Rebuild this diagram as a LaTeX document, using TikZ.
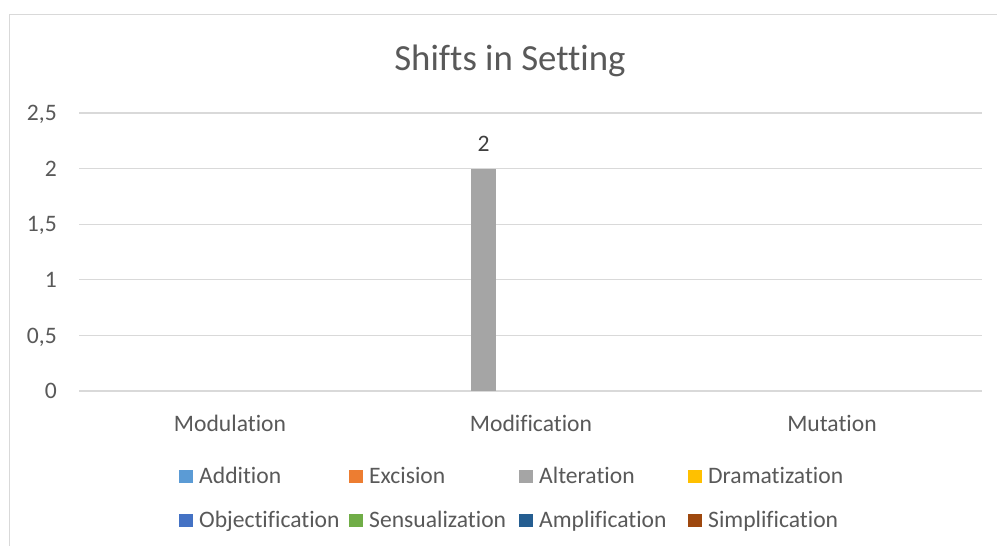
\documentclass[tikz,border=0pt]{standalone}
\usepackage{fontspec}
\setmainfont{Carlito}[Ligatures=NoCommon]
\definecolor{txtgray}{HTML}{595959}
\definecolor{lblgray}{HTML}{404040}
\definecolor{gridgray}{HTML}{D9D9D9}
\definecolor{cAddition}{HTML}{5B9BD5}
\definecolor{cExcision}{HTML}{ED7D31}
\definecolor{cAlteration}{HTML}{A5A5A5}
\definecolor{cDramatization}{HTML}{FFC000}
\definecolor{cObjectification}{HTML}{4472C4}
\definecolor{cSensualization}{HTML}{70AD47}
\definecolor{cAmplification}{HTML}{255E91}
\definecolor{cSimplification}{HTML}{9E480E}
\tikzset{
  chartframe/.style={draw=gridgray, line width=1.2pt},
  gridline/.style={draw=gridgray, line width=1.3pt},
  basetext/.style={inner sep=0pt, text=txtgray, font=\fontsize{23.6}{28}\selectfont},
  ticklabel/.style={basetext, anchor=base east},
  catlabel/.style={basetext, anchor=base},
  legtext/.style={basetext, anchor=base west},
  datalabel/.style={basetext, anchor=base, text=lblgray},
  titletext/.style={inner sep=0pt, anchor=base, text=txtgray, font=\fontsize{36.8}{44}\selectfont},
  legkey/.style={fill=#1, draw=none}
}
\begin{document}
\begin{tikzpicture}[x=1pt, y=-1pt]
\useasboundingbox (0,0) rectangle (997,546);
\fill[white] (0,0) rectangle (997,546);
% chart frame, running off the right and bottom edges
\begin{scope}
  \clip (0,0) rectangle (997,546);
  \draw[chartframe] (9.5,14.5) rectangle (1020,570);
\end{scope}

% title
\node[titletext] (title) at (510,70) {Shifts in Setting};

% horizontal gridlines and value axis labels
\foreach \v/\lab [count=\i from 0] in {0/0, 1/{0,5}, 2/1, 3/{1,5}, 4/2, 5/{2,5}} {
  \draw[gridline] (79,{391-\v*55.6}) -- (982,{391-\v*55.6});
  \node[ticklabel] (tick\i) at (57,{391-\v*55.6+7.6}) {\lab};
}

% the single non-zero bar (Alteration, Modification)
\fill[cAlteration] (471,169) rectangle (496,391);
\node[datalabel] (val) at (483.5,151) {2};

% category labels
\node[catlabel] (catA) at (230,431) {Modulation};
\node[catlabel] (catB) at (531,431) {Modification};
\node[catlabel] (catC) at (832,431) {Mutation};

% legend
\foreach \kx/\name/\row in {179/Addition/0, 349/Excision/0, 519/Alteration/0, 688/Dramatization/0,
                            179/Objectification/1, 349/Sensualization/1, 519/Amplification/1, 688/Simplification/1} {
  \fill[legkey=c\name] (\kx,{470+\row*44}) rectangle ({\kx+14},{483+\row*44});
  \node[legtext] (leg\name) at ({\kx+20},{483+\row*44}) {\name};
}
\end{tikzpicture}
\end{document}
